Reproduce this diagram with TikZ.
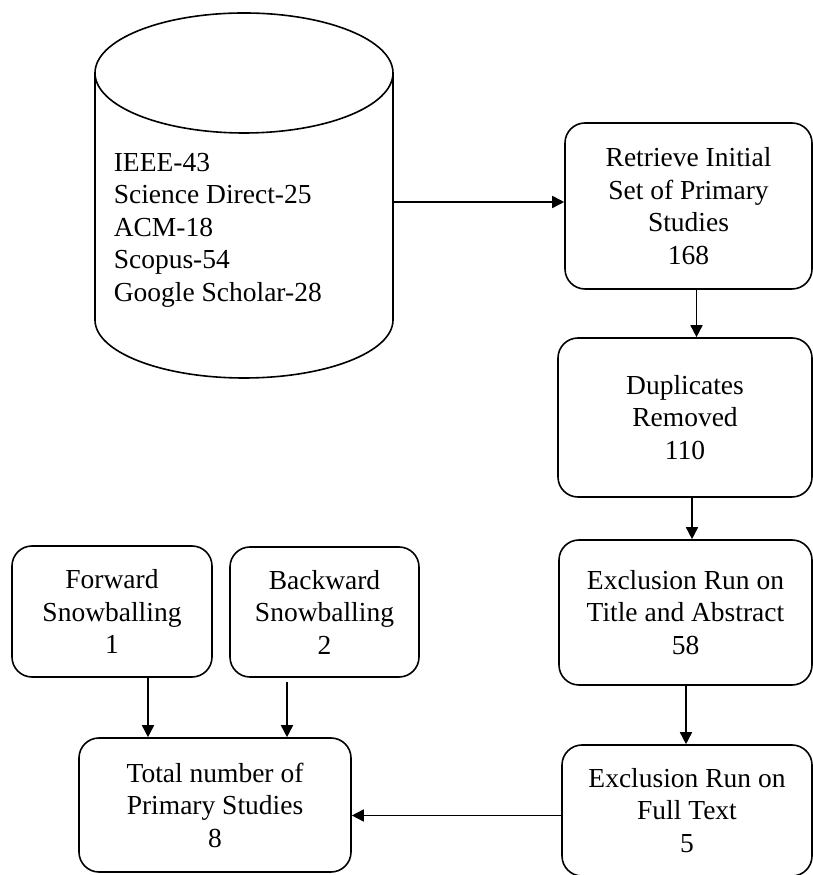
\documentclass[tikz,border=0pt]{standalone}
\usepackage{fontspec}
\setmainfont{Liberation Serif}
\usetikzlibrary{arrows.meta}
\begin{document}
\begin{tikzpicture}[x=1pt,y=1pt,
  line width=1.6pt,
  box/.style={draw, rounded corners=20pt, align=center, inner sep=0pt,
    font=\fontsize{27.5}{32.5}\selectfont},
  arr/.style={-{Triangle[length=12pt,width=12pt]}}]
\useasboundingbox (0,0) rectangle (813,875);
% database cylinder
\draw (244,802) ellipse [x radius=149, y radius=60];
\draw (95,802) -- (95,555) arc[start angle=180, end angle=360, x radius=149, y radius=58] -- (393,802);
\node[minimum width=298pt, minimum height=247pt, inner sep=0pt] (db) at (244,678.5) {};
\node[anchor=west, align=left, inner sep=0pt, font=\fontsize{27.5}{32.5}\selectfont] (dbtext) at (113,645)
  {IEEE-43\\Science Direct-25\\ACM-18\\Scopus-54\\Google Scholar-28};
% right column
\node[box, minimum width=247pt, minimum height=166pt] (r1) at (688.5,669) {Retrieve Initial\\Set of Primary\\Studies\\168};
\node[box, minimum width=254pt, minimum height=159pt] (r2) at (685,457.5) {Duplicates\\Removed\\110};
\node[box, minimum width=253pt, minimum height=145pt] (r3) at (685.5,262.5) {Exclusion Run on\\Title and Abstract\\58};
\node[box, minimum width=250pt, minimum height=131pt] (r4) at (687,64.5) {Exclusion Run on\\Full Text\\5};
% left bottom
\node[box, minimum width=200pt, minimum height=131pt] (fw) at (112,263.5) {Forward\\Snowballing\\1};
\node[box, minimum width=189pt, minimum height=130pt] (bw) at (324.5,263) {Backward\\Snowballing\\2};
\node[box, minimum width=272pt, minimum height=134pt] (tot) at (215,70) {Total number of\\Primary Studies\\8};
% connectors
\draw[arr] ([yshift=4pt]r1.west -| db.east) -- ([yshift=4pt]r1.west);
\draw[arr] ([xshift=8pt]r1.south) -- ([xshift=8pt]r1.south |- r2.north);
\draw[arr] ([xshift=7pt]r2.south) -- ([xshift=7pt]r2.south |- r3.north);
\draw[arr] ([xshift=0.5pt]r3.south) -- ([xshift=0.5pt]r3.south |- r4.north);
\draw[arr] ([yshift=-5pt]r4.west) -- ([yshift=-5pt]r4.west -| tot.east);
\draw[arr] ([xshift=36pt]fw.south) -- ([xshift=36pt]fw.south |- tot.north);
\draw[arr] ([xshift=-37.5pt,yshift=-4pt]bw.south) -- ([xshift=-37.5pt]bw.south |- tot.north);
\end{tikzpicture}
\end{document}
